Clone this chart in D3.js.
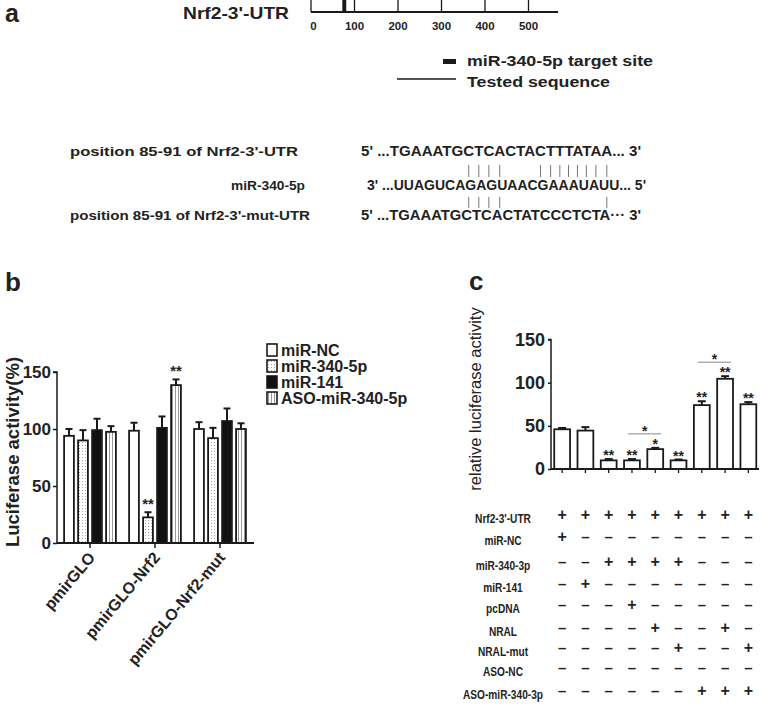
<!DOCTYPE html>
<html><head><meta charset="utf-8">
<script src="https://cdnjs.cloudflare.com/ajax/libs/d3/7.8.5/d3.min.js"></script>
<style>body{margin:0;background:#fff} svg{display:block} text{font-family:"Liberation Sans",Arial,sans-serif;fill:#222}</style>
</head><body><svg id="c" width="762" height="707"></svg>
<script>
// ---------- Panel a data ----------
const rulerTicks = [0, 100, 200, 300, 400, 500];
const rulerMax = 568;
const targetSite = [72, 81];
const seqLabels = ["position 85-91 of  Nrf2-3'-UTR", "miR-340-5p", "position 85-91 of  Nrf2-3'-mut-UTR"];
const seqs = ["5' ...TGAAATGCTCACTACTTTATAA... 3'", "3' ...UUAGUCAGAGUAACGAAAUAUU...  5'", "5' ...TGAAATGCTCACTATCCCTCTA\u00b7\u00b7\u00b7 3'"];
const topPairs = [8, 9, 10, 11, 15, 16, 17, 18, 19, 20, 21, 22];
const bottomPairs = [8, 9, 10, 11, 22];

// ---------- Panel b data ----------
const bGroups = ["pmirGLO", "pmirGLO-Nrf2", "pmirGLO-Nrf2-mut"];
const bSeries = ["miR-NC", "miR-340-5p", "miR-141", "ASO-miR-340-5p"];
const bMeans = [[94, 90, 99, 97.5], [98.5, 22.5, 101, 138.5], [100, 92, 107, 100]];
const bErr = [[6, 9, 10, 5], [7, 4.5, 10, 5], [6, 9, 11, 5]];
const bStars = [["", "", "", ""], ["", "**", "", "**"], ["", "", "", ""]];
const bTicks = [0, 50, 100, 150];

// ---------- Panel c data ----------
const cMeans = [46, 44.5, 10, 10, 23, 10, 74, 104.5, 75];
const cErr = [1.5, 4, 1.5, 1.5, 1.5, 1, 4.5, 3, 2.5];
const cStars = ["", "", "**", "**", "*", "**", "**", "**", "**"];
const cBrackets = [[3, 4, "*"], [6, 7, "*"]];
const cTicks = [0, 50, 100, 150];
const cRowLabels = ["Nrf2-3'-UTR", "miR-NC", "miR-340-3p", "miR-141", "pcDNA", "NRAL", "NRAL-mut", "ASO-NC", "ASO-miR-340-3p"];
const cRows = [
  "+++++++++",
  "+--------",
  "--++++---",
  "-+-------",
  "---+-----",
  "----+--+-",
  "-----+--+",
  "---------",
  "------+++"
];

const svg = d3.select("#c");
const ink = "#1a1a1a";
function fit(sel, w) { sel.attr("textLength", w).attr("lengthAdjust", "spacingAndGlyphs"); return sel; }

// ================= Panel a =================
svg.append("text").attr("x", 5).attr("y", 22).attr("font-size", 25).attr("font-weight", "bold").text("a");
fit(svg.append("text").attr("x", 183).attr("y", 19).attr("font-size", 17).attr("font-weight", "bold").text("Nrf2-3'-UTR"), 106);
const rx = d3.scaleLinear().domain([0, 500]).range([311, 528.5]);
const ra = svg.append("g");
ra.append("line").attr("x1", rx(0)).attr("x2", rx(rulerMax)).attr("y1", 12).attr("y2", 12).attr("stroke", ink).attr("stroke-width", 1.8);
ra.selectAll("line.t").data(rulerTicks).join("line").attr("class", "t")
  .attr("x1", d => rx(d)).attr("x2", d => rx(d)).attr("y1", 0).attr("y2", 12).attr("stroke", ink).attr("stroke-width", 1.3);
ra.append("rect").attr("x", rx(targetSite[0])).attr("width", rx(targetSite[1]) - rx(targetSite[0])).attr("y", 0).attr("height", 12).attr("fill", ink);
ra.selectAll("text").data(rulerTicks).join("text").attr("x", d => rx(d) + (d === 0 ? 2.5 : 0)).attr("y", 30)
  .attr("text-anchor", "middle").attr("font-size", 11.5).attr("font-weight", "bold").text(d => d);
// legend of panel a
svg.append("rect").attr("x", 443).attr("y", 59).attr("width", 13).attr("height", 5).attr("fill", ink);
fit(svg.append("text").attr("x", 467).attr("y", 66).attr("font-size", 14).attr("font-weight", "bold").text("miR-340-5p target site"), 186);
svg.append("line").attr("x1", 397).attr("x2", 456).attr("y1", 79).attr("y2", 79).attr("stroke", ink).attr("stroke-width", 1.6);
fit(svg.append("text").attr("x", 467).attr("y", 87).attr("font-size", 14).attr("font-weight", "bold").text("Tested sequence"), 143);

// sequences
const rowY = [156, 190, 220];
const labX = [70, 305, 70];
const labW = [228, 74, 240];
const seqX = [361, 367, 361];
const seqW = [280, 279, 280];
seqLabels.forEach((l, i) => {
  fit(svg.append("text").attr("x", labX[i]).attr("y", rowY[i]).attr("text-anchor", i === 1 ? "end" : "start")
    .attr("font-size", 13.5).attr("font-weight", "bold").text(l), labW[i]);
});
const seqNodes = seqs.map((s, i) => fit(svg.append("text").attr("x", seqX[i]).attr("y", rowY[i]).attr("font-size", 14).attr("font-weight", "bold").text(s), seqW[i]));
function charCenter(node, idx) {
  const ext = node.node().getExtentOfChar(idx);
  return ext.x + ext.width / 2;
}
topPairs.forEach(p => {
  const x = charCenter(seqNodes[0], 5 + p);
  svg.append("line").attr("x1", x).attr("x2", x).attr("y1", 165).attr("y2", 177).attr("stroke", "#777").attr("stroke-width", 1);
});
bottomPairs.forEach(p => {
  const x = charCenter(seqNodes[0], 5 + p);
  svg.append("line").attr("x1", x).attr("x2", x).attr("y1", 197).attr("y2", 208).attr("stroke", "#777").attr("stroke-width", 1);
});

// ================= Panel b =================
svg.append("text").attr("x", 5).attr("y", 291).attr("font-size", 26).attr("font-weight", "bold").text("b");
const defs = svg.append("defs");
const dots = defs.append("pattern").attr("id", "dots").attr("width", 3).attr("height", 3).attr("patternUnits", "userSpaceOnUse");
dots.append("rect").attr("width", 3).attr("height", 3).attr("fill", "#fff");
dots.append("rect").attr("x", 1).attr("y", 1).attr("width", 1).attr("height", 1).attr("fill", "#aaa");
const vl = defs.append("pattern").attr("id", "vlines").attr("width", 3).attr("height", 4).attr("patternUnits", "userSpaceOnUse");
vl.append("rect").attr("width", 3).attr("height", 4).attr("fill", "#fff");
vl.append("rect").attr("x", 1).attr("width", 1).attr("height", 4).attr("fill", "#999");
const fills = ["#fff", "url(#dots)", "#111", "url(#vlines)"];

const by = d3.scaleLinear().domain([0, 150]).range([543, 372]);
const bx = d3.scaleBand().domain(bGroups).range([57.5, 252.5]);
const bs = d3.scaleBand().domain(bSeries).range([-28, 28]).paddingInner(0.3).paddingOuter(0.15);
const gb = svg.append("g");
bGroups.forEach((g, gi) => {
  bSeries.forEach((s, si) => {
    const cx = bx(g) + bx.bandwidth() / 2 + bs(s) + bs.bandwidth() / 2;
    const v = bMeans[gi][si], e = bErr[gi][si];
    gb.append("line").attr("x1", cx).attr("x2", cx).attr("y1", by(v)).attr("y2", by(v + e)).attr("stroke", ink).attr("stroke-width", 2);
    gb.append("line").attr("x1", cx - 3.5).attr("x2", cx + 3.5).attr("y1", by(v + e)).attr("y2", by(v + e)).attr("stroke", ink).attr("stroke-width", 2);
    gb.append("rect").attr("x", cx - bs.bandwidth() / 2).attr("width", bs.bandwidth()).attr("y", by(v)).attr("height", by(0) - by(v))
      .attr("fill", fills[si]).attr("stroke", ink).attr("stroke-width", 1.8);
    if (bStars[gi][si]) gb.append("text").attr("x", cx).attr("y", by(v + e) - 3).attr("text-anchor", "middle").attr("font-size", 15).attr("font-weight", "bold").text(bStars[gi][si]);
  });
});
const byAxis = svg.append("g").attr("transform", "translate(57,0)").call(d3.axisLeft(by).tickValues(bTicks).tickSize(4).tickPadding(2));
byAxis.select(".domain").attr("stroke", ink).attr("stroke-width", 1.5).attr("d", `M-4,${by(150)}H0V${by(0)}`);
byAxis.selectAll(".tick line").attr("stroke", ink).attr("stroke-width", 1.5);
byAxis.selectAll(".tick text").attr("font-size", 17).attr("font-weight", "bold").attr("fill", ink).style("font-family", '"Liberation Sans",Arial,sans-serif');
const bxAxis = svg.append("g").attr("transform", "translate(0,543)").call(d3.axisBottom(bx).tickSize(5).tickFormat(""));
bxAxis.select(".domain").attr("stroke", ink).attr("stroke-width", 2).attr("d", "M57,0H254");
bxAxis.selectAll(".tick line").attr("stroke", ink).attr("stroke-width", 1.5);
bGroups.forEach(g => {
  const x = bx(g) + bx.bandwidth() / 2 + 6;
  svg.append("text").attr("transform", `translate(${x},558) rotate(-50)`).attr("text-anchor", "end").attr("font-size", 16).attr("font-weight", "bold").text(g);
});
svg.append("text").attr("transform", "translate(19,452) rotate(-90)").attr("text-anchor", "middle").attr("font-size", 18.5).attr("font-weight", "bold").text("Luciferase activity(%)");
// legend b
const lg = svg.append("g");
bSeries.forEach((s, i) => {
  const y = 344 + i * 16;
  lg.append("rect").attr("x", 267).attr("y", y).attr("width", 10).attr("height", 12).attr("fill", fills[i]).attr("stroke", ink).attr("stroke-width", 1.6);
  lg.append("text").attr("x", 281).attr("y", y + 12).attr("font-size", 16).attr("font-weight", "bold").text(s);
});

// ================= Panel c =================
svg.append("text").attr("x", 469).attr("y", 290).attr("font-size", 26).attr("font-weight", "bold").text("c");
const cy = d3.scaleLinear().domain([0, 150]).range([469, 339.5]);
const cx = d3.scaleBand().domain(d3.range(cMeans.length)).range([550.5, 760]).paddingInner(0.32).paddingOuter(0.16);
const gc = svg.append("g");
cMeans.forEach((v, i) => {
  const x0 = cx(i), w = cx.bandwidth(), m = x0 + w / 2, e = cErr[i];
  gc.append("line").attr("x1", m).attr("x2", m).attr("y1", cy(v)).attr("y2", cy(v + e)).attr("stroke", ink).attr("stroke-width", 2);
  gc.append("line").attr("x1", m - 4).attr("x2", m + 4).attr("y1", cy(v + e)).attr("y2", cy(v + e)).attr("stroke", ink).attr("stroke-width", 2);
  gc.append("rect").attr("x", x0).attr("width", w).attr("y", cy(v)).attr("height", cy(0) - cy(v)).attr("fill", "#fff").attr("stroke", ink).attr("stroke-width", 1.8);
  if (cStars[i]) gc.append("text").attr("x", m).attr("y", cy(v + e) + 1).attr("text-anchor", "middle").attr("font-size", 14).attr("font-weight", "bold").attr("fill", "#333").text(cStars[i]);
});
cBrackets.forEach(([a, b, s]) => {
  const xa = cx(a) + 4, xb = cx(b) + cx.bandwidth() - 2;
  const top = Math.min(cy(cMeans[a] + cErr[a]), cy(cMeans[b] + cErr[b])) - 14;
  gc.append("line").attr("x1", xa).attr("x2", xb).attr("y1", top).attr("y2", top).attr("stroke", "#888").attr("stroke-width", 1);
  gc.append("text").attr("x", (xa + xb) / 2).attr("y", top + 2).attr("text-anchor", "middle").attr("font-size", 14).attr("font-weight", "bold").attr("fill", "#333").text(s);
});
const cyAxis = svg.append("g").attr("transform", "translate(551,0)").call(d3.axisLeft(cy).tickValues(cTicks).tickSize(3).tickPadding(3));
cyAxis.select(".domain").attr("stroke", ink).attr("stroke-width", 1.5).attr("d", `M-3,${cy(150)}H0V${cy(0)}`);
cyAxis.selectAll(".tick line").attr("stroke", ink).attr("stroke-width", 1.5);
cyAxis.selectAll(".tick text").attr("font-size", 18).attr("font-weight", "bold").attr("fill", ink).style("font-family", '"Liberation Sans",Arial,sans-serif');
const cxAxis = svg.append("g").attr("transform", "translate(0,469)").call(d3.axisBottom(cx).tickSize(4).tickFormat(""));
cxAxis.select(".domain").attr("stroke", ink).attr("stroke-width", 2).attr("d", "M551,0H759");
cxAxis.selectAll(".tick line").attr("stroke", ink).attr("stroke-width", 1.3);
svg.append("text").attr("transform", "translate(481,399) rotate(-90)").attr("text-anchor", "middle").attr("font-size", 16.5).attr("fill", "#111").text("relative luciferase activity");

// table
const rowYs = [515, 537, 562, 584, 605, 628, 648, 668, 691];
cRowLabels.forEach((l, r) => {
  svg.append("g").attr("transform", `translate(503,${rowYs[r] + 8}) scale(0.78,1)`)
    .append("text").attr("text-anchor", "middle").attr("font-size", 13).attr("font-weight", "bold").text(l);
  cRows[r].split("").forEach((c, i) => {
    const m = cx(i) + cx.bandwidth() / 2;
    svg.append("text").attr("x", m).attr("y", rowYs[r] + 5).attr("text-anchor", "middle").attr("font-size", c === "+" ? 16 : 15)
      .attr("font-weight", "bold").text(c === "+" ? "+" : "\u2013");
  });
});
</script></body></html>
